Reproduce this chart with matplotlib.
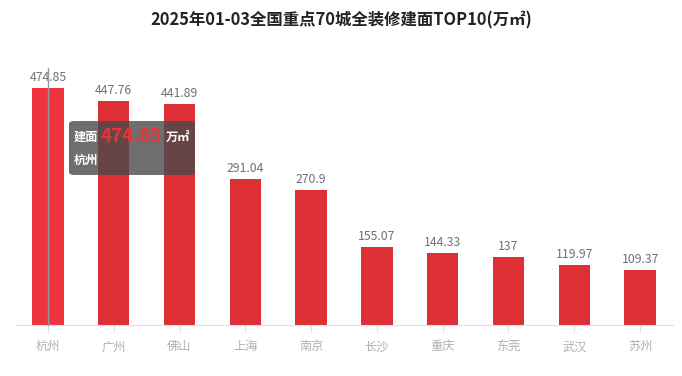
import matplotlib
matplotlib.use('Agg')
from matplotlib import pyplot as plt
from matplotlib.patches import FancyBboxPatch

plt.rcParams['font.family'] = ['Noto Sans CJK SC', 'DejaVu Sans']

cities = ['杭州', '广州', '佛山', '上海', '南京', '长沙', '重庆', '东莞', '武汉', '苏州']
areas = [474.85, 447.76, 441.89, 291.04, 270.9, 155.07, 144.33, 137, 119.97, 109.37]
labels = ['474.85', '447.76', '441.89', '291.04', '270.9', '155.07', '144.33', '137', '119.97', '109.37']
title = '2025年01-03全国重点70城全装修建面TOP10(万㎡)'
hover = 0

fig = plt.figure(figsize=(6.82, 3.76), dpi=100)
ax = fig.add_axes([15 / 682, 51 / 376, 658 / 682, 250 / 376])

x = list(range(len(cities)))
colors = ['#EF343D' if i == hover else '#DC3035' for i in x]
ax.bar(x, areas, width=0.48, color=colors, zorder=2)

for i, (v, t) in enumerate(zip(areas, labels)):
    ax.text(i, v + 8, t, ha='center', va='bottom', fontsize=8.8, color='#6E7079')

ax.set_xlim(-0.5, len(cities) - 0.5)
ax.set_ylim(0, 500)
ax.set_yticks([])
ax.set_xticks(x)
ax.set_xticklabels(cities, fontsize=8.8, color='#B0B0B0')
ax.tick_params(axis='x', length=5, color='#E0E0E0', pad=6)
for s in ['top', 'right', 'left']:
    ax.spines[s].set_visible(False)
ax.spines['bottom'].set_color('#E0E0E0')

# hover line
ax.plot([hover, hover], [0, 515], color='#999999', lw=1, zorder=3, clip_on=False)

fig.text(0.5, 1 - 20 / 376, title, ha='center', va='center', fontsize=11.8,
         fontweight='bold', color='#222222')

# tooltip
box = FancyBboxPatch((69 / 682, 1 - 175 / 376), 126 / 682, 54 / 376,
                     boxstyle='round,pad=0,rounding_size=0.008',
                     transform=fig.transFigure, facecolor='#4a4a4a', alpha=0.8,
                     edgecolor='none', zorder=10)
fig.patches.append(box)
fig.text(74 / 682, 1 - 137 / 376, '建面', fontsize=8.8, fontweight='bold', color='white',
         va='center', zorder=11)
fig.text(101 / 682, 1 - 136 / 376, '474.85', fontsize=13.5, fontweight='bold', color='#E8333B',
         va='center', zorder=11)
fig.text(166 / 682, 1 - 137 / 376, '万㎡', fontsize=8.8, fontweight='bold', color='white',
         va='center', zorder=11)
fig.text(74 / 682, 1 - 160 / 376, '杭州', fontsize=8.8, fontweight='bold', color='white',
         va='center', zorder=11)

fig.savefig('out.png', dpi=100)
